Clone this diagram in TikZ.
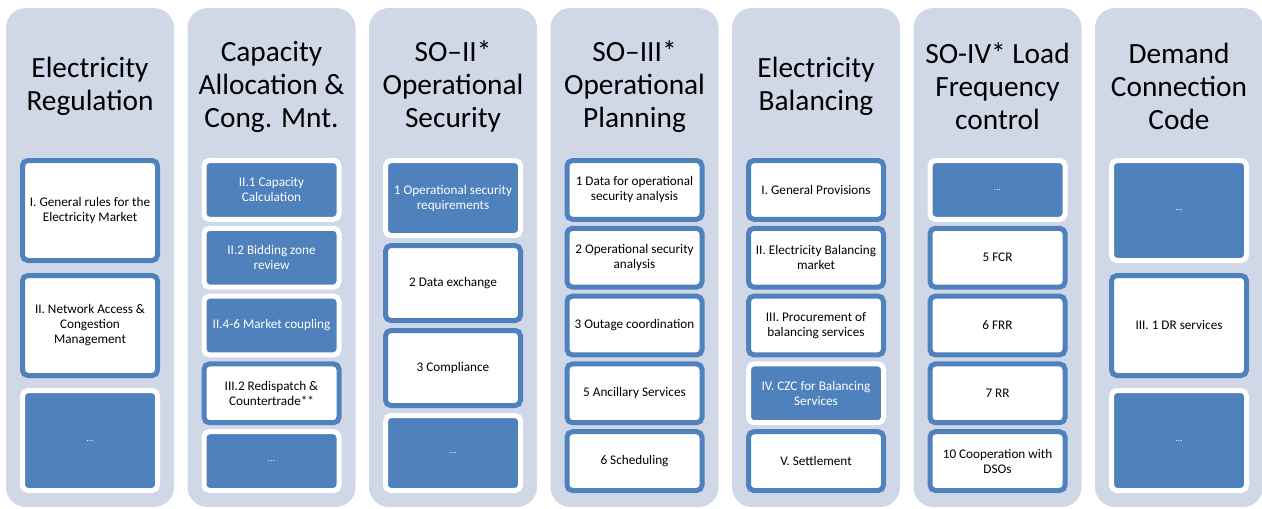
\documentclass[tikz,border=0pt]{standalone}
\usepackage{fontspec}
\setmainfont{Carlito}

\definecolor{azul}{HTML}{4F81BD}
\definecolor{gris}{HTML}{D0D8E8}

\tikzset{
    columna/.style={fill=gris, rounded corners=15pt, inner sep=0pt,
        minimum width=126pt, minimum height=374.25pt},
    titulo/.style={align=center, font=\fontsize{22}{24.75}\selectfont},
    caja/.style={draw=azul, fill=white, line width=3.75pt, rounded corners=4pt,
        minimum width=101.25pt, inner sep=0pt, align=center,
        font=\fontsize{9.9}{11.25}\selectfont},
    cajaazul/.style={caja, draw=white, fill=azul, text=white},
    alta/.style={minimum height=75pt},
    media/.style={minimum height=56.25pt},
    baja/.style={minimum height=44.1pt},
    puntos/.style={font=\fontsize{7}{8}\selectfont}
}

\begin{document}
\begin{tikzpicture}[x=0.75pt,y=-0.75pt]
        \useasboundingbox (0,0) rectangle (1262,508);

        % Columnas de fondo
        \node[columna] (col1) at (90,257.5) {};
        \node[columna] (col2) at (271.5,257.5) {};
        \node[columna] (col3) at (453,257.5) {};
        \node[columna] (col4) at (634.5,257.5) {};
        \node[columna] (col5) at (816,257.5) {};
        \node[columna] (col6) at (997.5,257.5) {};
        \node[columna] (col7) at (1179,257.5) {};

        % Titulos de cada columna
        \node[titulo] (tit1) at (90,86.5) {Electricity\\Regulation};
        \node[titulo] (tit2) at (271.5,86.5) {Capacity\\Allocation \&\\Cong. Mnt.};
        \node[titulo] (tit3) at (453,86.5) {SO–II*\\Operational\\Security};
        \node[titulo] (tit4) at (634.5,86.5) {SO–III*\\Operational\\Planning};
        \node[titulo] (tit5) at (816,86.5) {Electricity\\Balancing};
        \node[titulo] (tit6) at (997.5,86.5) {SO-IV* Load\\Frequency\\control};
        \node[titulo] (tit7) at (1179,86.5) {Demand\\Connection\\Code};

        % Columna 1: Electricity Regulation
        \node[caja,alta] (c11) at (90,210.5) {I. General rules for the\\Electricity Market};
        \node[caja,alta] (c12) at (90,325.5) {II. Network Access \&\\Congestion\\Management};
        \node[cajaazul,alta,puntos] (c13) at (90,440.5) {...};

        % Columna 2: Capacity Allocation
        \node[cajaazul,baja] (c21) at (271.5,189.9) {II.1 Capacity\\Calculation};
        \node[cajaazul,baja] (c22) at (271.5,257.7) {II.2 Bidding zone\\review};
        \node[cajaazul,baja] (c23) at (271.5,325.5) {II.4-6 Market coupling};
        \node[caja,baja] (c24) at (271.5,393.3) {III.2 Redispatch \&\\Countertrade**};
        \node[cajaazul,baja,puntos] (c25) at (271.5,461.1) {...};

        % Columna 3: SO-II
        \node[cajaazul,media] (c31) at (453,198) {1 Operational security\\requirements};
        \node[caja,media] (c32) at (453,283) {2 Data exchange};
        \node[caja,media] (c33) at (453,368) {3 Compliance};
        \node[cajaazul,media,puntos] (c34) at (453,453) {...};

        % Columna 4: SO-III
        \node[caja,baja] (c41) at (634.5,189.9) {1 Data for operational\\security analysis};
        \node[caja,baja] (c42) at (634.5,257.7) {2 Operational security\\analysis};
        \node[caja,baja] (c43) at (634.5,325.5) {3 Outage coordination};
        \node[caja,baja] (c44) at (634.5,393.3) {5 Ancillary Services};
        \node[caja,baja] (c45) at (634.5,461.1) {6 Scheduling};

        % Columna 5: Electricity Balancing
        \node[caja,baja] (c51) at (816,189.9) {I. General Provisions};
        \node[caja,baja] (c52) at (816,257.7) {II. Electricity Balancing\\market};
        \node[caja,baja] (c53) at (816,325.5) {III. Procurement of\\balancing services};
        \node[cajaazul,baja] (c54) at (816,393.3) {IV. CZC for Balancing\\Services};
        \node[caja,baja] (c55) at (816,461.1) {V. Settlement};

        % Columna 6: SO-IV
        \node[cajaazul,baja,puntos] (c61) at (997.5,189.9) {...};
        \node[caja,baja] (c62) at (997.5,257.7) {5 FCR};
        \node[caja,baja] (c63) at (997.5,325.5) {6 FRR};
        \node[caja,baja] (c64) at (997.5,393.3) {7 RR};
        \node[caja,baja] (c65) at (997.5,461.1) {10 Cooperation with\\DSOs};

        % Columna 7: Demand Connection Code
        \node[cajaazul,alta,puntos] (c71) at (1179,210.5) {...};
        \node[caja,alta] (c72) at (1179,325.5) {III. 1 DR services};
        \node[cajaazul,alta,puntos] (c73) at (1179,440.5) {...};
    \end{tikzpicture}
\end{document}
